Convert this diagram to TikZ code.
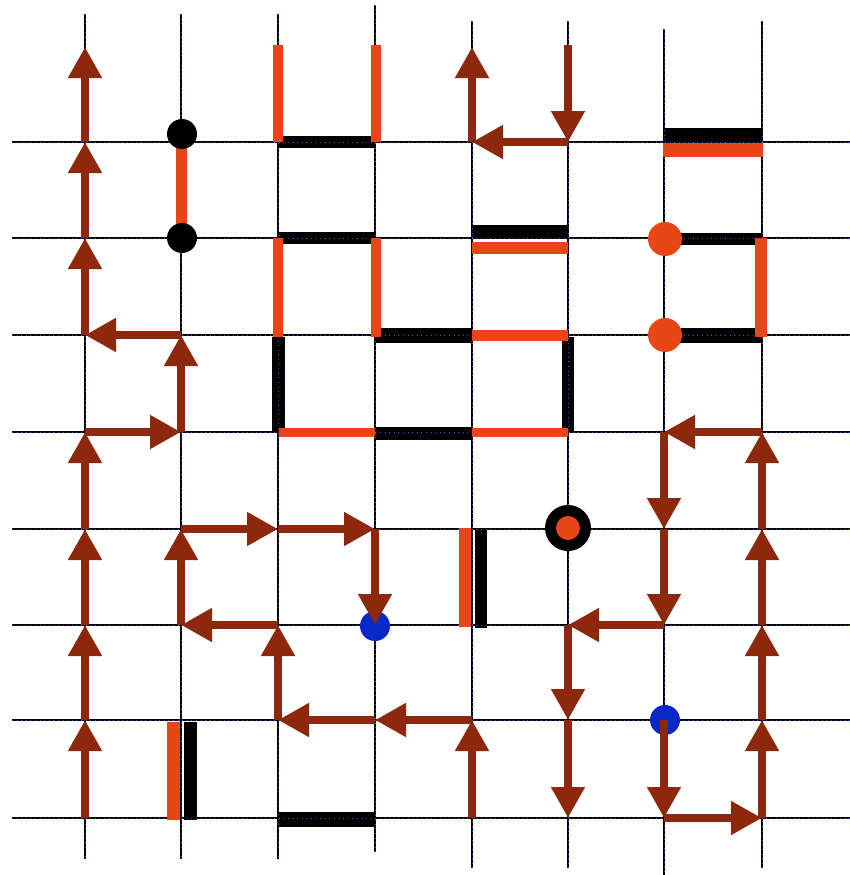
\documentclass[tikz,border=0pt]{standalone}
\usetikzlibrary{arrows.meta}
\definecolor{brn}{RGB}{142,40,12}
\definecolor{orn}{RGB}{232,70,22}
\definecolor{blu}{RGB}{8,40,200}
\definecolor{gdot}{RGB}{60,90,230}
\begin{document}
\begin{tikzpicture}[x=0.5pt,y=-0.5pt,
  arr/.style={draw=brn,line width=4.2pt,-{Triangle[length=15.5pt,width=16pt]}},
  oranbar/.style={fill=orn},
  blackbar/.style={fill=black},
  gridln/.style={draw=black,line width=0.6pt},
  griddots/.style={draw=gdot,line width=0.3pt,dash pattern=on 0.3pt off 2pt},
  bdot/.style={fill=black},
  odot/.style={fill=orn},
  bludot/.style={fill=blu}]
\useasboundingbox (0,0) rectangle (850,875);
\fill[white] (0,0) rectangle (850,875);
% grid coordinates
\foreach \xx [count=\i from 0] in {85,181,278,375,472,568,664,762}{
  \foreach \yy [count=\j from 0] in {142,238,335,432,529,625,720,818}{
    \coordinate (g-\i-\j) at (\xx,\yy);}}
\coordinate (t0) at (85,47);
\coordinate (t4) at (472,47);
\coordinate (t5) at (568,45);
% grid lines
\foreach \xx/\ta/\tb in {85/14/859,181/14/859,278/14/859,375/5/852,472/21/868,568/21/868,664/29/875,762/21/868}
  {\draw[gridln] (\xx,\ta) -- (\xx,\tb);}
\foreach \yy in {142,238,335,432,529,625,720,818}
  {\draw[gridln] (12,\yy) -- (850,\yy);}
% black walls
\fill[blackbar] (279,136) rectangle (375,148);
\fill[blackbar] (279,232) rectangle (375,244);
\fill[blackbar] (375,328) rectangle (472,343);
\fill[blackbar] (272,337) rectangle (285,432);
\fill[blackbar] (375,427) rectangle (472,440);
\fill[blackbar] (562,337) rectangle (574,433);
\fill[blackbar] (472,225) rectangle (568,238);
\fill[blackbar] (663,128) rectangle (763,142);
\fill[blackbar] (665,233) rectangle (762,245);
\fill[blackbar] (665,328) rectangle (762,343);
\fill[blackbar] (475,529) rectangle (487,628);
\fill[blackbar] (184,722) rectangle (197,820);
\fill[blackbar] (278,812) rectangle (375,827);
% blue dotted overlay of grid
\foreach \xx/\ta/\tb in {85/14/859,181/14/859,278/14/859,375/5/852,472/21/868,568/21/868,664/29/875,762/21/868}
  {\draw[griddots] (\xx,\ta) -- (\xx,\tb);}
\foreach \yy in {142,238,335,432,529,625,720,818}
  {\draw[griddots] (12,\yy) -- (850,\yy);}
% orange walls
\fill[oranbar] (273,45) rectangle (283,142);
\fill[oranbar] (371,45) rectangle (381,142);
\fill[oranbar] (176,140) rectangle (187,236);
\fill[oranbar] (273,238) rectangle (283,337);
\fill[oranbar] (371,238) rectangle (381,337);
\fill[oranbar] (472,242) rectangle (568,254);
\fill[oranbar] (472,330) rectangle (568,341);
\fill[oranbar] (279,428) rectangle (375,437);
\fill[oranbar] (472,428) rectangle (568,437);
\fill[oranbar] (663,143) rectangle (763,157);
\fill[oranbar] (755,238) rectangle (767,337);
\fill[oranbar] (459,528) rectangle (471,627);
\fill[oranbar] (167,722) rectangle (180,820);
% dots
\fill[bdot] (182,134) circle[radius=15];
\fill[bdot] (182,238) circle[radius=15];
\fill[odot] (665,239) circle[radius=17];
\fill[odot] (665,335) circle[radius=17];
\fill[bdot] (568,528) circle[radius=23];
\fill[odot] (568,528) circle[radius=12];
\fill[bludot] (375,626) circle[radius=15];
\fill[bludot] (665,720) circle[radius=15];
% left path
\draw[arr] (g-0-7) -- (g-0-6);
\draw[arr] (g-0-6) -- (g-0-5);
\draw[arr] (g-0-5) -- (g-0-4);
\draw[arr] (g-0-4) -- (g-0-3);
\draw[arr] (g-0-3) -- (g-1-3);
\draw[arr] (g-1-3) -- (g-1-2);
\draw[arr] (g-1-2) -- (g-0-2);
\draw[arr] (g-0-2) -- (g-0-1);
\draw[arr] (g-0-1) -- (g-0-0);
\draw[arr] (g-0-0) -- (t0);
% middle path
\draw[arr] (g-4-7) -- (g-4-6);
\draw[arr] (g-4-6) -- (g-3-6);
\draw[arr] (g-3-6) -- (g-2-6);
\draw[arr] (g-2-6) -- (g-2-5);
\draw[arr] (g-2-5) -- (g-1-5);
\draw[arr] (g-1-5) -- (g-1-4);
\draw[arr] (g-1-4) -- (g-2-4);
\draw[arr] (g-2-4) -- (g-3-4);
\draw[arr] (g-3-4) -- (g-3-5);
% top path
\draw[arr] (t5) -- (g-5-0);
\draw[arr] (g-5-0) -- (g-4-0);
\draw[arr] (g-4-0) -- (t4);
% right path
\draw[arr] (g-6-6) -- (g-6-7);
\draw[arr] (g-6-7) -- (g-7-7);
\draw[arr] (g-7-7) -- (g-7-6);
\draw[arr] (g-7-6) -- (g-7-5);
\draw[arr] (g-7-5) -- (g-7-4);
\draw[arr] (g-7-4) -- (g-7-3);
\draw[arr] (g-7-3) -- (g-6-3);
\draw[arr] (g-6-3) -- (g-6-4);
\draw[arr] (g-6-4) -- (g-6-5);
\draw[arr] (g-6-5) -- (g-5-5);
\draw[arr] (g-5-5) -- (g-5-6);
\draw[arr] (g-5-6) -- (g-5-7);
\end{tikzpicture}
\end{document}
